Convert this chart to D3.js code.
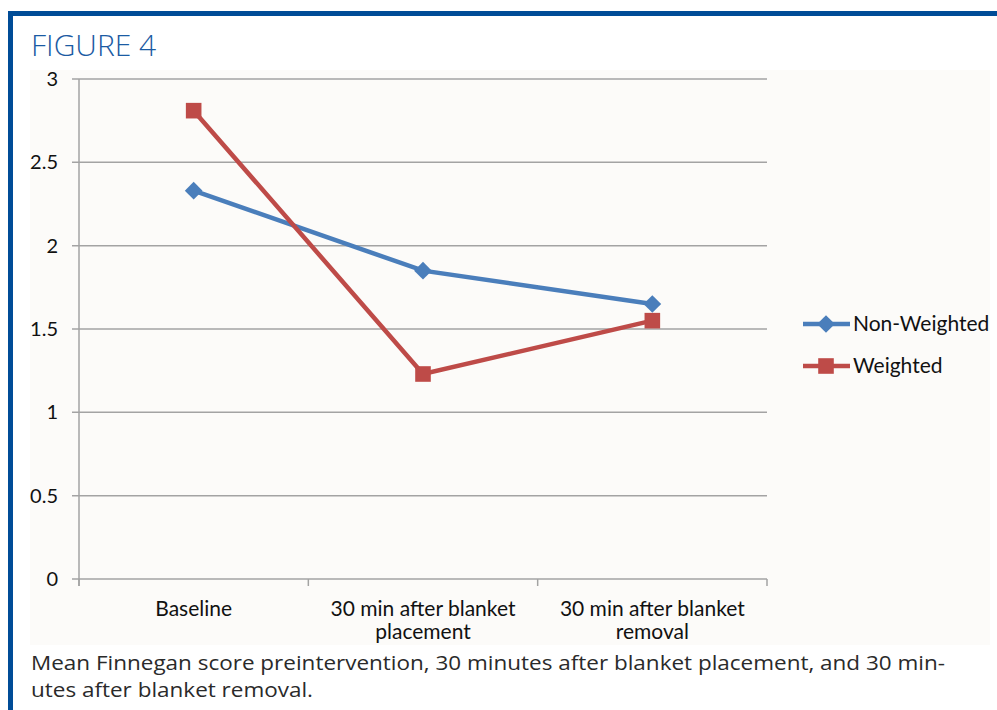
<!DOCTYPE html>
<html>
<head>
<meta charset="utf-8">
<script src="https://cdn.jsdelivr.net/npm/d3@7"></script>
<style>
  body { margin: 0; background: #fff; }
</style>
</head>
<body>
<div id="chart"></div>
<script>
// values
var categories = [["Baseline"], ["30 min after blanket", "placement"], ["30 min after blanket", "removal"]];
var nonWeighted = [2.33, 1.85, 1.65];
var weighted = [2.81, 1.23, 1.55];
var yTicks = [0, 0.5, 1, 1.5, 2, 2.5, 3];
var seriesNames = ["Non-Weighted", "Weighted"];

var W = 997, H = 710;
var svg = d3.select("#chart").append("svg").attr("width", W).attr("height", H);

// frame
svg.append("rect").attr("x", 30).attr("y", 70).attr("width", 960).attr("height", 575).attr("fill", "#fcfbf9");
svg.append("rect").attr("x", 8).attr("y", 11).attr("width", W - 8).attr("height", 5).attr("fill", "#004c97");
svg.append("rect").attr("x", 8).attr("y", 11).attr("width", 5).attr("height", H - 11).attr("fill", "#004c97");

svg.append("text").attr("x", 31).attr("y", 56)
  .style("font-family", "'Open Sans', sans-serif").style("font-size", "30px").style("font-weight", 300)
  .attr("fill", "#1b5ba3").text("FIGURE 4");

var x = d3.scaleBand().domain(d3.range(categories.length)).range([79, 767]);
var y = d3.scaleLinear().domain([0, 3]).range([579, 79]);

var font = "Lato, 'Open Sans', sans-serif";

// grid
svg.selectAll(".grid").data(yTicks).enter().append("line")
  .attr("x1", 72).attr("x2", 767)
  .attr("y1", function(d) { return y(d); }).attr("y2", function(d) { return y(d); })
  .attr("stroke", "#a3a3a3").attr("stroke-width", 1.5);

svg.selectAll(".ylab").data(yTicks).enter().append("text")
  .attr("x", 58).attr("y", function(d) { return y(d) + 7; })
  .attr("text-anchor", "end")
  .style("font-family", font).style("font-size", "20px").attr("fill", "#111")
  .text(function(d) { return d; });

// y axis
svg.append("line").attr("x1", 79).attr("x2", 79).attr("y1", 79).attr("y2", 586)
  .attr("stroke", "#a3a3a3").attr("stroke-width", 1.5);

// x ticks
var xt = [0, 1, 2, 3].map(function(i) { return 79 + i * x.bandwidth(); });
svg.selectAll(".xtick").data(xt).enter().append("line")
  .attr("x1", function(d) { return d; }).attr("x2", function(d) { return d; })
  .attr("y1", 579).attr("y2", 586).attr("stroke", "#a3a3a3").attr("stroke-width", 1.5);

var cl = svg.selectAll(".xlab").data(categories).enter().append("text")
  .attr("x", function(d, i) { return x(i) + x.bandwidth() / 2; })
  .attr("y", 616).attr("text-anchor", "middle")
  .style("font-family", font).style("font-size", "21px").attr("fill", "#111");
cl.selectAll("tspan").data(function(d) { return d; }).enter().append("tspan")
  .attr("x", function() { return d3.select(this.parentNode).attr("x"); })
  .attr("dy", function(d, i) { return i ? 23 : 0; })
  .text(function(d) { return d; });

var cx = function(d, i) { return x(i) + x.bandwidth() / 2; };
var line = d3.line().x(cx).y(function(d) { return y(d); });

var colors = ["#4a7ebb", "#be4b48"];
var data = [nonWeighted, weighted];
var sym = [d3.symbolDiamond2, d3.symbolSquare2];
var symSize = [200, 310];

data.forEach(function(s, k) {
  svg.append("path").datum(s).attr("d", line).attr("fill", "none")
    .attr("stroke", colors[k]).attr("stroke-width", 4.5);
  svg.selectAll(".m" + k).data(s).enter().append("path")
    .attr("transform", function(d, i) { return "translate(" + cx(d, i) + "," + y(d) + ")"; })
    .attr("d", d3.symbol().type(sym[k]).size(symSize[k]))
    .attr("fill", colors[k]);
});

// legend
seriesNames.forEach(function(n, k) {
  var ly = 324 + k * 42;
  svg.append("line").attr("x1", 803).attr("x2", 850).attr("y1", ly).attr("y2", ly)
    .attr("stroke", colors[k]).attr("stroke-width", 4.5);
  svg.append("path").attr("transform", "translate(826," + ly + ")")
    .attr("d", d3.symbol().type(sym[k]).size(symSize[k])).attr("fill", colors[k]);
  svg.append("text").attr("x", 853).attr("y", ly + 7)
    .style("font-family", font).style("font-size", "21px").attr("fill", "#111").text(n);
});

// caption
var capStyle = function(t) {
  return t.style("font-family", "'Open Sans', sans-serif").style("font-size", "19.5px")
    .attr("lengthAdjust", "spacingAndGlyphs").attr("fill", "#2a2a2a");
};
capStyle(svg.append("text").attr("x", 31).attr("y", 670).attr("textLength", 914))
  .text("Mean Finnegan score preintervention, 30 minutes after blanket placement, and 30 min-");
capStyle(svg.append("text").attr("x", 31).attr("y", 696.5).attr("textLength", 282))
  .text("utes after blanket removal.");
</script>
</body>
</html>
